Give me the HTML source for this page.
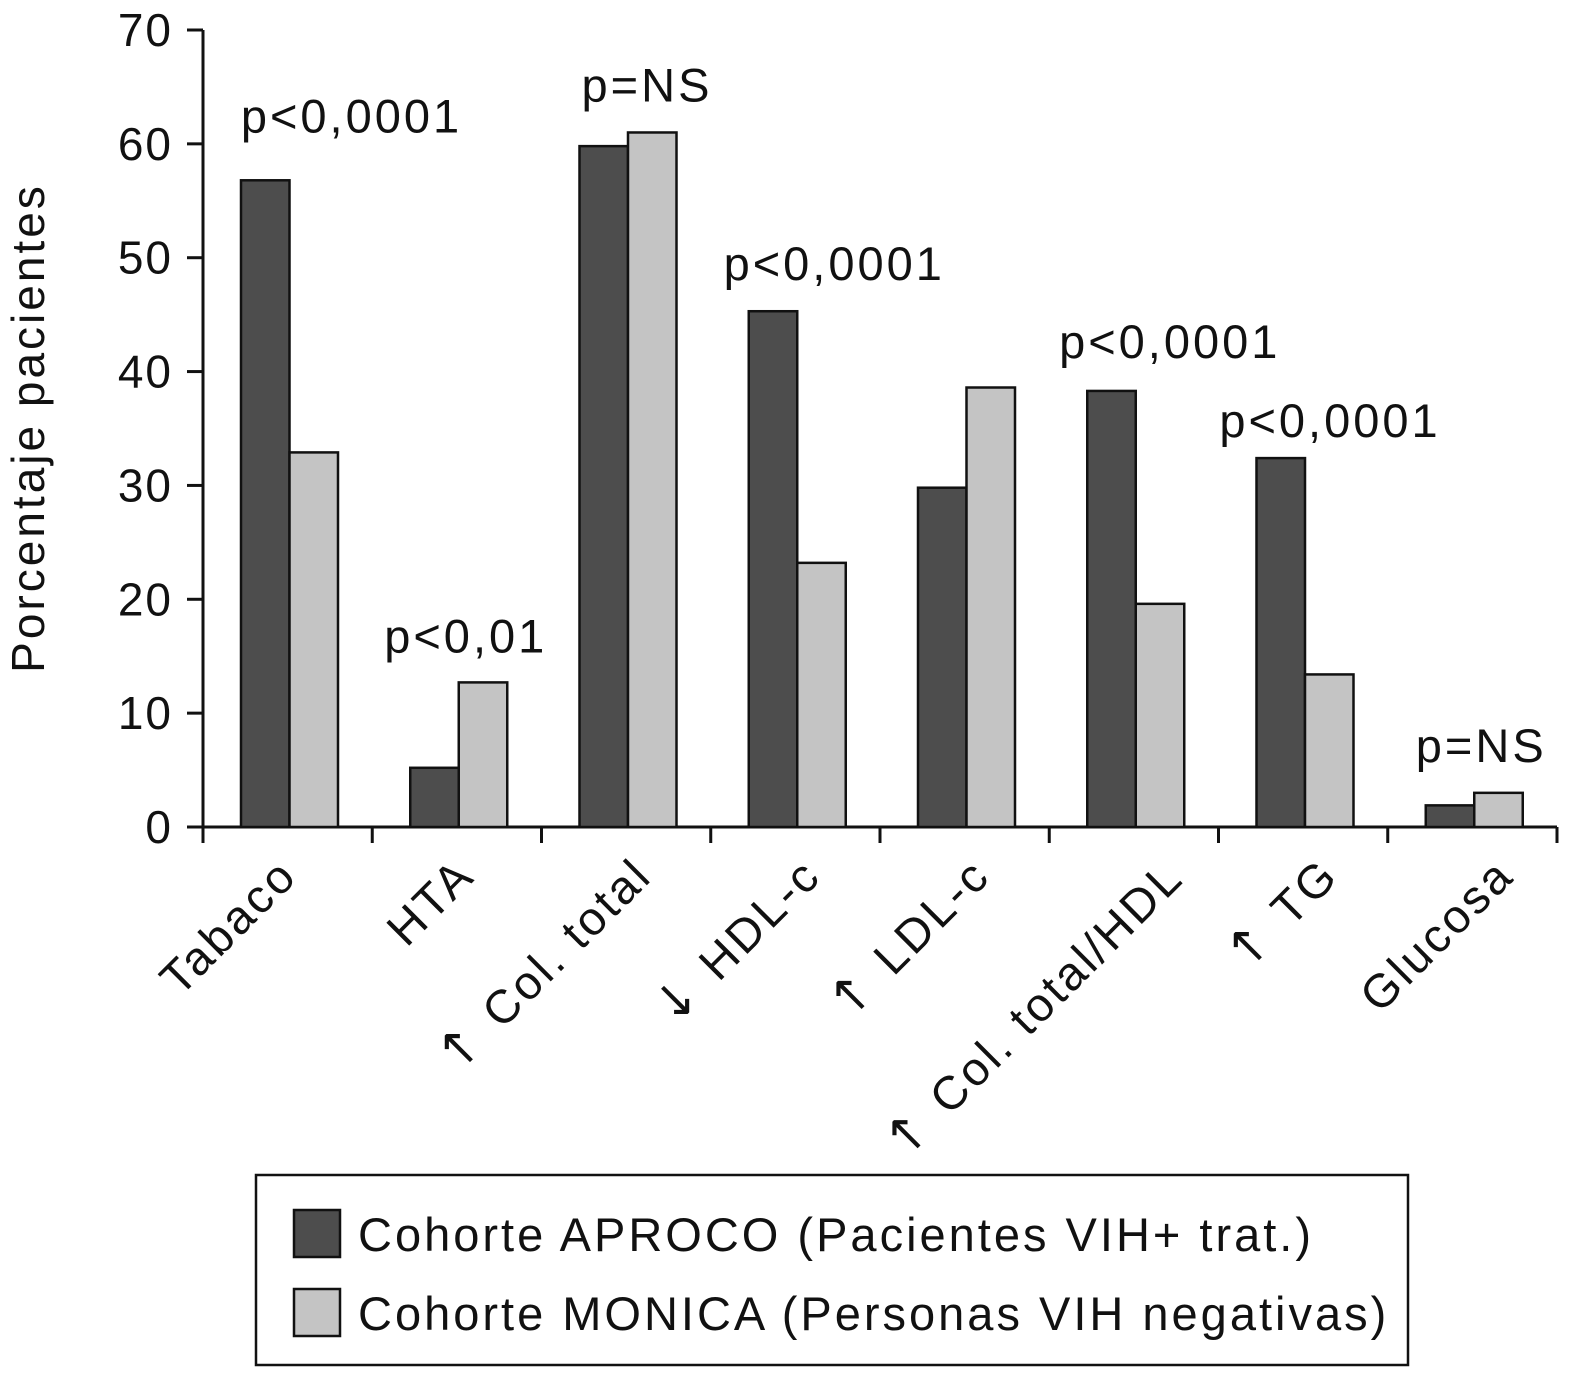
<!DOCTYPE html>
<html><head><meta charset="utf-8"><style>
body{margin:0;background:#fff}
text{font-family:"Liberation Sans",Arial,sans-serif;fill:#111;letter-spacing:3px}
.arr{font-family:"DejaVu Sans",sans-serif;font-size:50px}
</style></head><body>
<svg id="chart" width="1583" height="1380" xmlns="http://www.w3.org/2000/svg">
<g id="axes"></g><g id="bars"></g><g id="labels"></g>
<text transform="translate(44,428) rotate(-90)" text-anchor="middle" font-size="46">Porcentaje pacientes</text>
<g>
<rect x="256" y="1175" width="1152" height="190" fill="#fff" stroke="#111" stroke-width="2.5"/>
<rect x="294" y="1210" width="46" height="47" fill="#4d4d4d" stroke="#111" stroke-width="2.5"/>
<text x="358" y="1251" font-size="47">Cohorte APROCO (Pacientes VIH+ trat.)</text>
<rect x="294" y="1289" width="46" height="47" fill="#c4c4c4" stroke="#111" stroke-width="2.5"/>
<text x="358" y="1330" font-size="47">Cohorte MONICA (Personas VIH negativas)</text>
</g>
</svg>
<script>
const categories=["Tabaco","HTA","Col. total","HDL-c","LDL-c","Col. total/HDL","TG","Glucosa"];
const arrows=["","","\u2191","\u2193","\u2191","\u2191","\u2191",""];
const aproco=[56.8,5.2,59.8,45.3,29.8,38.3,32.4,1.9];
const monica=[32.9,12.7,61,23.2,38.6,19.6,13.4,3];
const pLabels=["p<0,0001","p<0,01","p=NS","p<0,0001","","p<0,0001","p<0,0001","p=NS"];
const yTicks=[0,10,20,30,40,50,60,70];
const NS="http://www.w3.org/2000/svg";
const x0=203,x1=1557,y0=827,yTop=30,ymax=70;
const bw=(x1-x0)/categories.length;
const ys=v=>y0-(y0-yTop)*v/ymax;
const xs=i=>x0+i*bw;
function mk(tag,attrs,parent){const e=document.createElementNS(NS,tag);for(const k in attrs)e.setAttribute(k,attrs[k]);(typeof parent==='string'?document.getElementById(parent):parent).appendChild(e);return e;}
let ax=mk('line',{x1:x0,y1:yTop,x2:x0,y2:y0+16,stroke:'#111','stroke-width':3},'axes');


let bx=mk('line',{x1:x0-16,y1:y0,x2:x1,y2:y0,stroke:'#111','stroke-width':3},'axes');


yTicks.forEach(t=>{
  let l=mk('line',{x1:x0-16,y1:ys(t),x2:x0,y2:ys(t),stroke:'#111','stroke-width':3},'axes');
  
  
  let tx=mk('text',{x:x0-30,y:ys(t)+16,'text-anchor':'end','font-size':46,style:'letter-spacing:2px'},'axes');
  
  
  tx.textContent=t;
});
for(let i=0;i<=categories.length;i++){
  let l=mk('line',{x1:xs(i),y1:y0,x2:xs(i),y2:y0+16,stroke:'#111','stroke-width':3},'axes');
  
  
}
const pDx=[62,7,19,37,0,34,25,7];
const pGap=[48,30,31,31,0,33,21,31];
const endDx=[12,20,28,28,28,52,38,44];
categories.forEach((c,i)=>{
  const gx=xs(i)+38,w=48.5;
  let a=mk('rect',{x:gx,y:ys(aproco[i]),width:w,height:y0-ys(aproco[i]),fill:'#4d4d4d',stroke:'#111','stroke-width':2.5},'bars');
  
  
  let m=mk('rect',{x:gx+w,y:ys(monica[i]),width:w,height:y0-ys(monica[i]),fill:'#c4c4c4',stroke:'#111','stroke-width':2.5},'bars');
  
  
  if(pLabels[i]){
    let p=mk('text',{x:gx+w+pDx[i],y:ys(Math.max(aproco[i],monica[i]))-pGap[i],'text-anchor':'middle','font-size':47},'labels');
    
    
    p.textContent=pLabels[i];
  }
  const ex=xs(i)+bw/2+endDx[i],ey=i==5?880:878;
  let t=mk('text',{transform:`translate(${ex},${ey}) rotate(-45)`,'text-anchor':'end','font-size':47},'labels');
  
  
  if(arrows[i]){
    let s=mk('tspan',{class:'arr'},t);
    
    
    s.textContent=arrows[i]+' ';
  }
  t.appendChild(document.createTextNode(c));
});
</script>
</body></html>
